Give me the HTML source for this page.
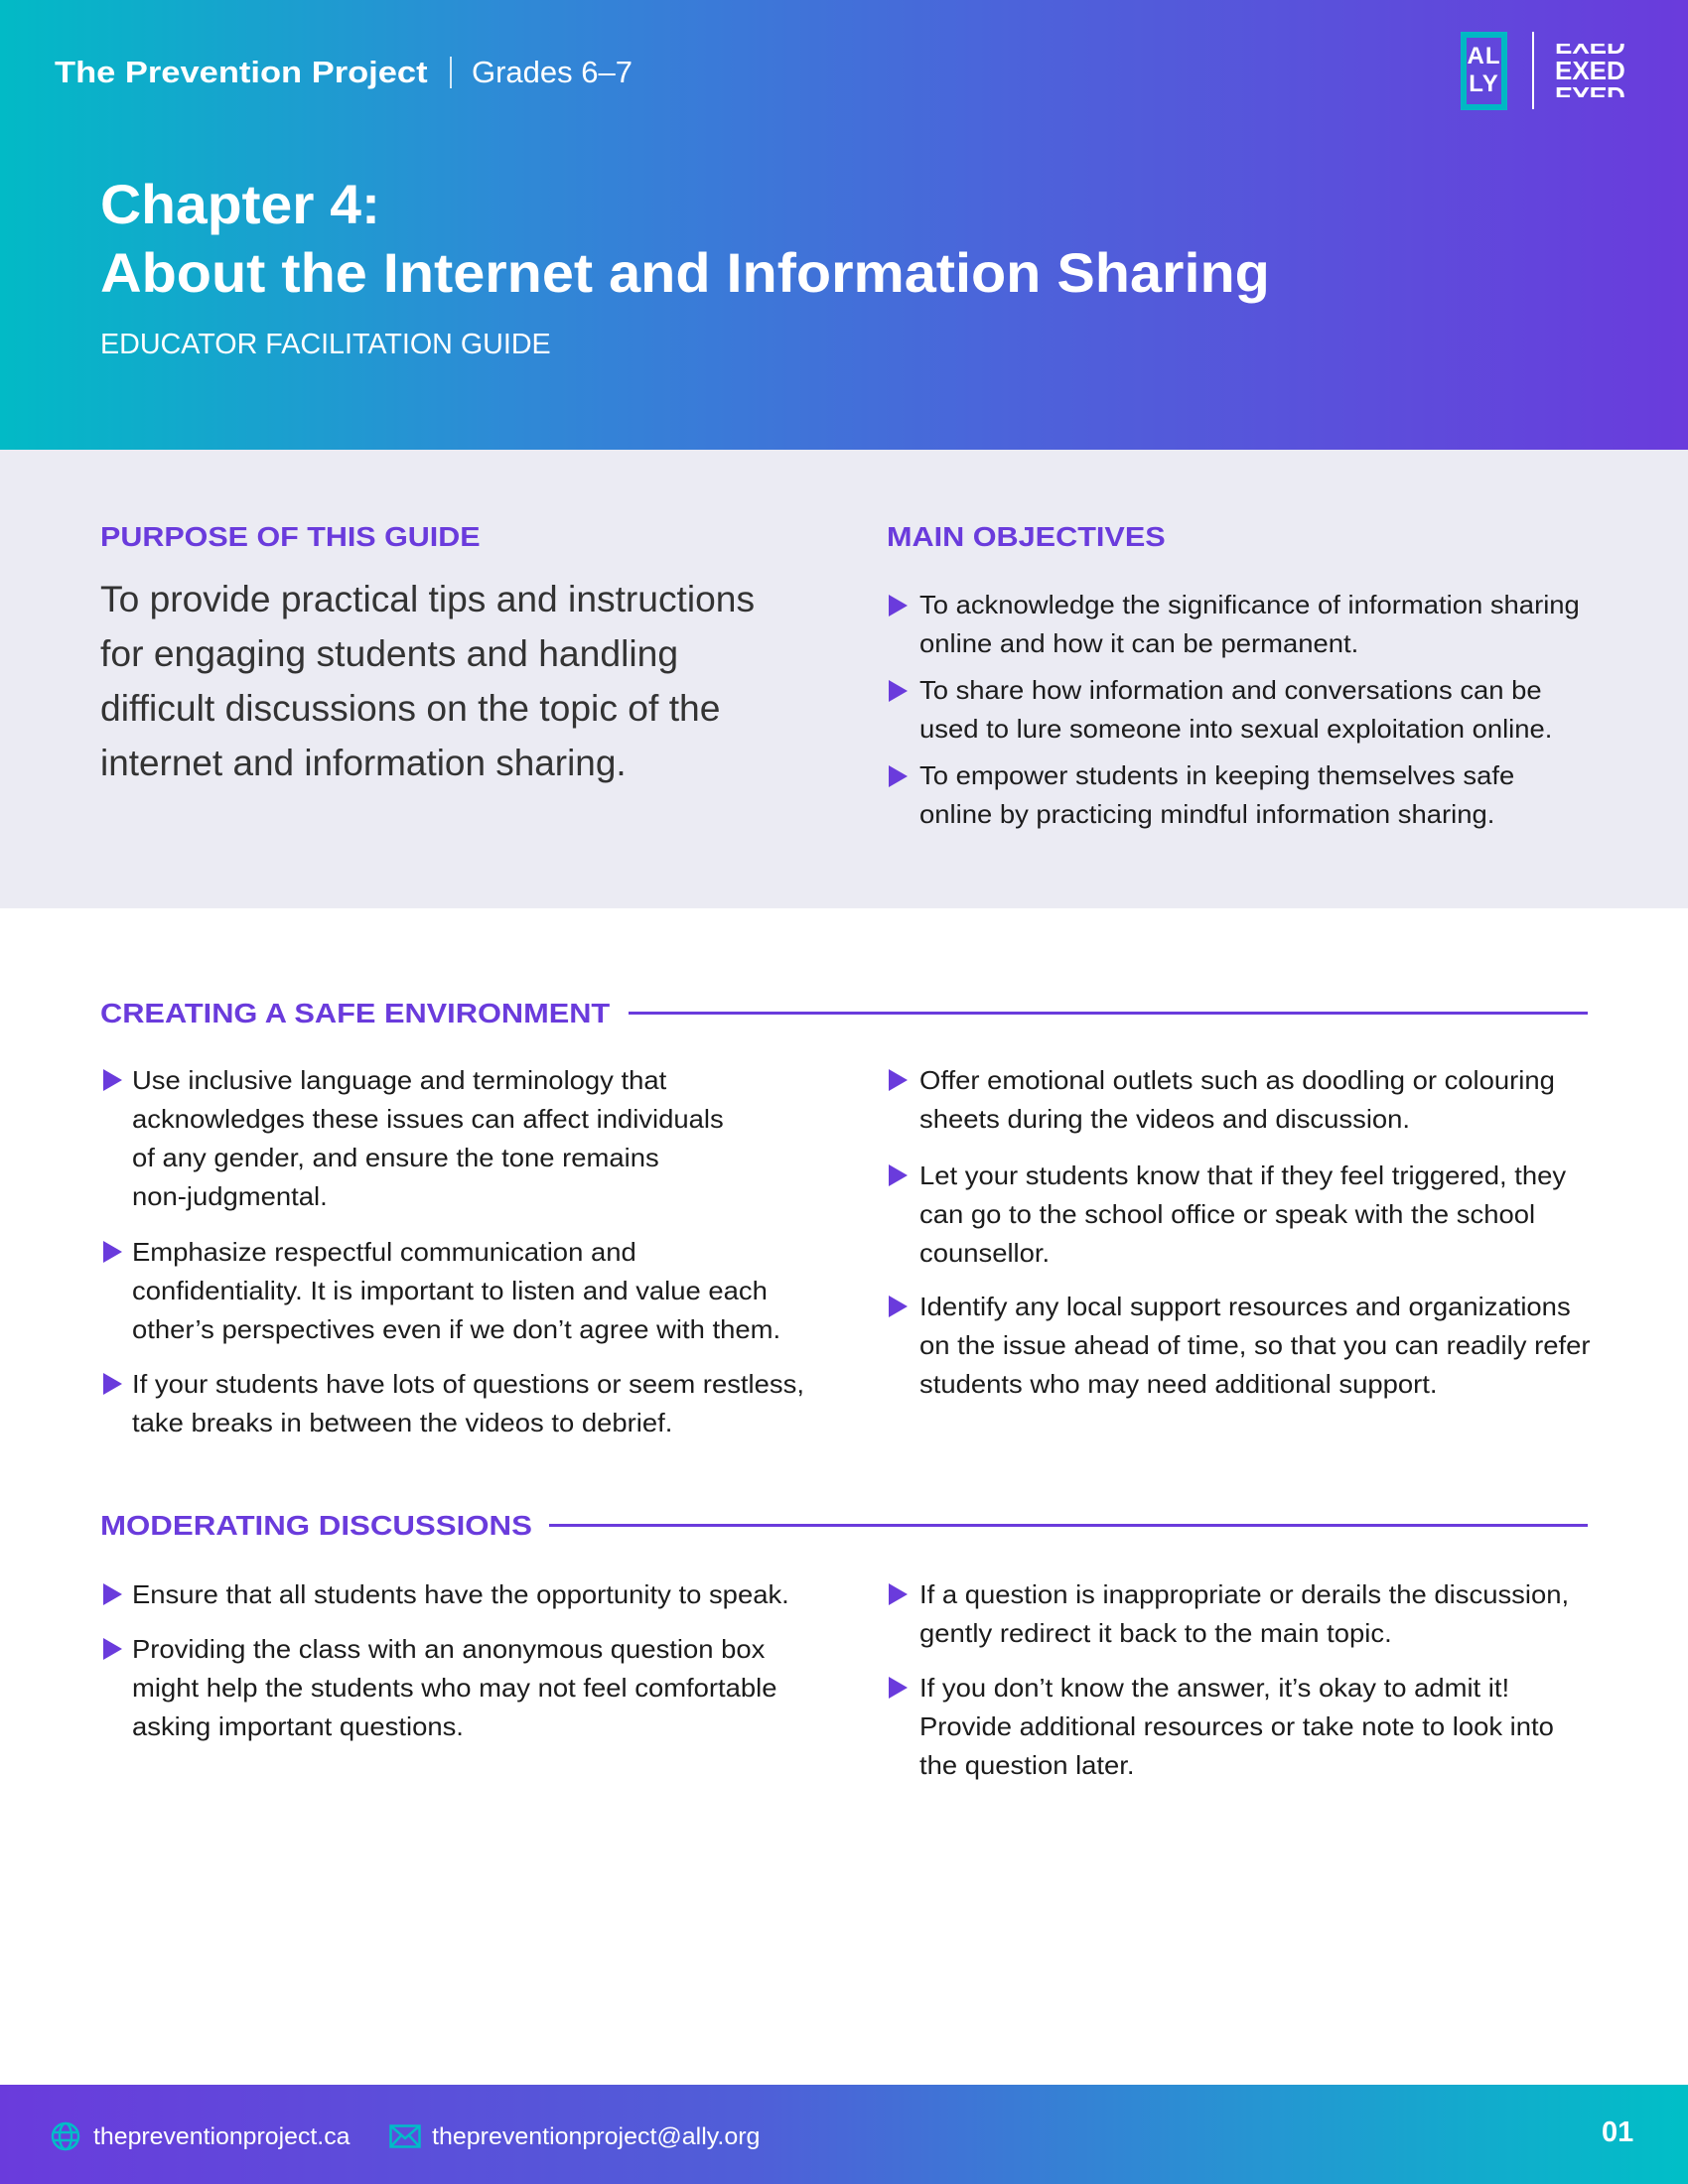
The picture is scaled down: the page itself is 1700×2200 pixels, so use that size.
<!DOCTYPE html>
<html><head><meta charset="utf-8"><style>
*{margin:0;padding:0;box-sizing:border-box}
body{width:1700px;height:2200px;position:relative;overflow:hidden;background:#fff;font-family:"Liberation Sans",sans-serif;color:#1c1c1c}
.a{position:absolute;white-space:nowrap}
.fit{display:inline-block;transform-origin:0 50%}
.hdr{background:linear-gradient(90deg,#02bac6 0%,#2e8ad6 30%,#4c63da 60%,#6a3bdc 100%);position:absolute;left:0;top:0;width:1700px;height:453px}
.gray{position:absolute;left:0;top:453px;width:1700px;height:462px;background:#ebebf3}
.h{color:#6a3bdc;font-weight:bold;font-size:28px;line-height:40px}
.t{font-size:26px;line-height:39px;color:#1c1c1c;transform:scaleX(1.055);transform-origin:0 0}
.p{font-size:37px;line-height:55px;color:#333}
.tri{position:absolute;width:0;height:0;border-top:11px solid transparent;border-bottom:11px solid transparent;border-left:19px solid #6a3bdc}
.rule{position:absolute;height:3px;background:#6a3bdc}
.foot{position:absolute;left:0;top:2100px;width:1700px;height:100px;background:linear-gradient(90deg,#6a3bdc 0%,#4f5fd8 45%,#2596d2 75%,#00bfc7 100%)}
.fl{color:#fff;font-size:24px;text-decoration:underline;text-underline-offset:5px;text-decoration-thickness:2px}
</style></head><body>
<div class="hdr"></div>
<div class="a" style="left:55px;top:53px;line-height:40px;color:#fff;font-weight:bold;font-size:31px"><span class="fit" data-w="376">The Prevention Project</span></div>
<div class="a" style="left:453px;top:57px;width:2px;height:32px;background:rgba(255,255,255,.8)"></div>
<div class="a" style="left:475px;top:53px;line-height:40px;color:#fff;font-size:31px"><span class="fit" data-w="162">Grades 6–7</span></div>
<div class="a" style="left:1471px;top:32px;width:47px;height:79px;border:6px solid #00b8c4;color:#fff;font-weight:bold;font-size:24px;line-height:28px;text-align:center;padding-top:5px;letter-spacing:1px">AL<br>LY</div>
<div class="a" style="left:1543px;top:32px;width:2px;height:78px;background:#fff"></div>
<div class="a" style="left:1566px;top:44px;color:#fff;font-weight:bold;font-size:26px;width:84px;height:56px;line-height:19px"><div style="height:14px;overflow:hidden"><div style="margin-top:-8px">EXED</div></div><div style="line-height:26px;height:26px">EXED</div><div style="height:14px;overflow:hidden;transform:scaleY(-1)"><div style="margin-top:-8px">EXED</div></div></div>
<div class="a" style="left:101px;top:172px;line-height:68px;color:#fff;font-weight:bold;font-size:56px"><span class="fit" data-w="282">Chapter 4:</span></div>
<div class="a" style="left:101px;top:241px;line-height:68px;color:#fff;font-weight:bold;font-size:56px"><span class="fit" data-w="1178">About the Internet and Information Sharing</span></div>
<div class="a" style="left:101px;top:328px;line-height:38px;color:#fff;font-size:29px"><span class="fit" data-w="454">EDUCATOR FACILITATION GUIDE</span></div>

<div class="gray"></div>
<div class="a h" style="left:101px;top:521px"><span class="fit" data-w="383">PURPOSE OF THIS GUIDE</span></div>
<div class="a p" style="left:101px;top:576px">
<div><span class="fit" data-w="659">To provide practical tips and instructions</span></div>
<div><span class="fit" data-w="582">for engaging students and handling</span></div>
<div><span class="fit" data-w="624">difficult discussions on the topic of the</span></div>
<div><span class="fit" data-w="530">internet and information sharing.</span></div></div>
<div class="a h" style="left:893px;top:521px"><span class="fit" data-w="281">MAIN OBJECTIVES</span></div>
<div class="tri" style="left:895px;top:599px"></div>
<div class="a t" style="left:926px;top:590px">To acknowledge the significance of information sharing<br>online and how it can be permanent.</div>
<div class="tri" style="left:895px;top:685px"></div>
<div class="a t" style="left:926px;top:676px">To share how information and conversations can be<br>used to lure someone into sexual exploitation online.</div>
<div class="tri" style="left:895px;top:771px"></div>
<div class="a t" style="left:926px;top:762px">To empower students in keeping themselves safe<br>online by practicing mindful information sharing.</div>

<div class="a h" style="left:101px;top:1001px"><span class="fit" data-w="513">CREATING A SAFE ENVIRONMENT</span></div>
<div class="rule" style="left:633px;top:1019px;width:966px"></div>
<div class="tri" style="left:104px;top:1077px"></div>
<div class="a t" style="left:133px;top:1069px">Use inclusive language and terminology that<br>acknowledges these issues can affect individuals<br>of any gender, and ensure the tone remains<br>non-judgmental.</div>
<div class="tri" style="left:104px;top:1250px"></div>
<div class="a t" style="left:133px;top:1242px">Emphasize respectful communication and<br>confidentiality. It is important to listen and value each<br>other’s perspectives even if we don’t agree with them.</div>
<div class="tri" style="left:104px;top:1383px"></div>
<div class="a t" style="left:133px;top:1375px">If your students have lots of questions or seem restless,<br>take breaks in between the videos to debrief.</div>
<div class="tri" style="left:895px;top:1077px"></div>
<div class="a t" style="left:926px;top:1069px">Offer emotional outlets such as doodling or colouring<br>sheets during the videos and discussion.</div>
<div class="tri" style="left:895px;top:1173px"></div>
<div class="a t" style="left:926px;top:1165px">Let your students know that if they feel triggered, they<br>can go to the school office or speak with the school<br>counsellor.</div>
<div class="tri" style="left:895px;top:1305px"></div>
<div class="a t" style="left:926px;top:1297px">Identify any local support resources and organizations<br>on the issue ahead of time, so that you can readily refer<br>students who may need additional support.</div>

<div class="a h" style="left:101px;top:1517px"><span class="fit" data-w="435">MODERATING DISCUSSIONS</span></div>
<div class="rule" style="left:553px;top:1535px;width:1046px"></div>
<div class="tri" style="left:104px;top:1595px"></div>
<div class="a t" style="left:133px;top:1587px">Ensure that all students have the opportunity to speak.</div>
<div class="tri" style="left:104px;top:1650px"></div>
<div class="a t" style="left:133px;top:1642px">Providing the class with an anonymous question box<br>might help the students who may not feel comfortable<br>asking important questions.</div>
<div class="tri" style="left:895px;top:1595px"></div>
<div class="a t" style="left:926px;top:1587px">If a question is inappropriate or derails the discussion,<br>gently redirect it back to the main topic.</div>
<div class="tri" style="left:895px;top:1689px"></div>
<div class="a t" style="left:926px;top:1681px">If you don’t know the answer, it’s okay to admit it!<br>Provide additional resources or take note to look into<br>the question later.</div>

<div class="foot"></div>
<svg class="a" style="left:51px;top:2137px" width="30" height="30" viewBox="0 0 30 30"><g fill="none" stroke="#00bcc8" stroke-width="2.5"><circle cx="15" cy="15" r="13"/><ellipse cx="15" cy="15" rx="6" ry="13"/><line x1="2" y1="11" x2="28" y2="11"/><line x1="2" y1="19" x2="28" y2="19"/></g></svg>
<div class="a fl" style="left:94px;top:2138px;line-height:30px"><span class="fit" data-w="259">thepreventionproject.ca</span></div>
<svg class="a" style="left:392px;top:2140px" width="32" height="24" viewBox="0 0 32 24"><g fill="none" stroke="#00bcc8" stroke-width="2.5"><rect x="1.5" y="1.5" width="29" height="21"/><polyline points="1.5,1.5 16,14 30.5,1.5"/><line x1="1.5" y1="22.5" x2="12" y2="11"/><line x1="30.5" y1="22.5" x2="20" y2="11"/></g></svg>
<div class="a fl" style="left:435px;top:2138px;line-height:30px"><span class="fit" data-w="330">thepreventionproject@ally.org</span></div>
<div class="a" style="left:1613px;top:2128px;line-height:40px;color:#fff;font-weight:bold;font-size:29px">01</div>
<script>
document.querySelectorAll('.fit').forEach(function(e){var w=+e.getAttribute('data-w');var c=e.offsetWidth;if(c>0)e.style.transform='scaleX('+(w/c)+')';});
</script>
</body></html>
